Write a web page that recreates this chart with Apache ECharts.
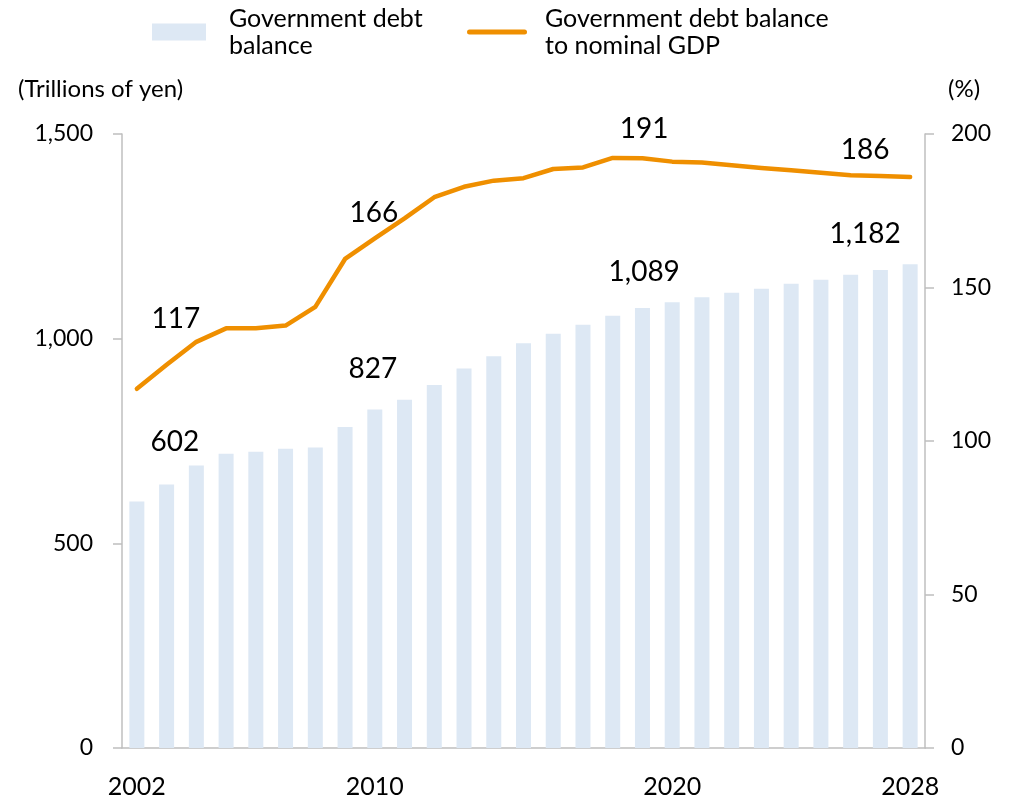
<!DOCTYPE html>
<html>
<head>
<meta charset="utf-8">
<script src="https://cdn.jsdelivr.net/npm/echarts@6/dist/echarts.min.js"></script>
<style>
  html, body { margin: 0; padding: 0; background: #ffffff; }
  #chart { width: 1009px; height: 800px; }
</style>
</head>
<body>
<div id="chart"></div>
<script>
// Fiscal years shown on the category axis
const years = ['2002','2003','2004','2005','2006','2007','2008','2009','2010','2011','2012','2013','2014',
  '2015','2016','2017','2018','2019','2020','2021','2022','2023','2024','2025','2026','2027','2028'];

// Government debt balance (trillions of yen)
const debtBalance = [602, 644, 690, 719, 724, 731, 734, 784, 827, 851, 887, 927, 957,
  989, 1012, 1034, 1056, 1075, 1089, 1101, 1112, 1122, 1134, 1144, 1156, 1168, 1182];

// Government debt balance to nominal GDP (%)
const debtToGdp = [117, 124.8, 132.3, 136.7, 136.7, 137.6, 143.7, 159.3, 166, 172.5, 179.4, 182.8, 184.8,
  185.6, 188.6, 189.1, 192.2, 192.1, 191, 190.7, 189.8, 188.9, 188.2, 187.4, 186.6, 186.3, 186];

// Years whose tick label is printed, and years whose values are annotated
const xTickYears = ['2002', '2010', '2020', '2028'];
const annotatedYears = ['2002', '2010', '2020', '2028'];

const seriesNames = ['Government debt balance', 'Government debt balance to nominal GDP'];
const legendTexts = ['Government debt\nbalance', 'Government debt balance\nto nominal GDP'];
const axisTitles = ['(Trillions of yen)', '(%)'];

// ---- presentation ----
const FONT = 'Lato, "Open Sans", sans-serif';
const BAR_COLOR = '#dde8f4';
const LINE_COLOR = '#ef8f00';
const AXIS_COLOR = '#bfbfbf';

const fmt = v => Number(v).toLocaleString('en-US');

// annotation nudges, keyed by year
const barLabelShift = { '2002': [38, -46], '2010': [-2, -27], '2020': [-28, -16], '2028': [-45, -16] };
const lineLabelShift = { '2002': [39, -56], '2010': [-1, -11], '2020': [-28, -19], '2028': [-45, -13] };

const labelText = { fontFamily: FONT, fontSize: 28, lineHeight: 28, color: '#000' };

const barData = debtBalance.map((v, i) => {
  const y = years[i];
  if (!annotatedYears.includes(y)) return v;
  return { value: v, label: { show: true, position: 'top', distance: 0, offset: barLabelShift[y],
    formatter: p => fmt(p.value), ...labelText } };
});

const lineData = debtToGdp.map((v, i) => {
  const y = years[i];
  if (!annotatedYears.includes(y)) return v;
  return { value: v, label: { show: true, position: 'top', distance: 0, offset: lineLabelShift[y],
    formatter: p => fmt(p.value), ...labelText } };
});

const chart = echarts.init(document.getElementById('chart'), null, { renderer: 'canvas' });

chart.setOption({
  animation: false,
  backgroundColor: '#ffffff',
  textStyle: { fontFamily: FONT },
  grid: { left: 122, right: 84, top: 134, bottom: 52 },
  legend: [
    {
      left: 152, top: 5, padding: 0,
      itemWidth: 54, itemHeight: 17,
      selectedMode: false,
      data: [{ name: seriesNames[0], icon: 'rect' }],
      formatter: () => legendTexts[0],
      textStyle: { fontFamily: FONT, fontSize: 25, lineHeight: 27, color: '#000', padding: [0, 0, 0, 18] }
    },
    {
      left: 467, top: 5, padding: 0,
      itemWidth: 60, itemHeight: 5,
      selectedMode: false,
      data: [{ name: seriesNames[1], icon: 'path://M2.5,0 H57.5 A2.5,2.5 0 0 1 57.5,5 H2.5 A2.5,2.5 0 0 1 2.5,0 Z',
        itemStyle: { color: LINE_COLOR } }],
      formatter: () => legendTexts[1],
      textStyle: { fontFamily: FONT, fontSize: 25, lineHeight: 27, color: '#000', padding: [0, 0, 0, 13] }
    }
  ],
  graphic: [
    { type: 'text', left: 18, top: 77, style: { text: axisTitles[0], font: '24px ' + FONT, fill: '#000' } },
    { type: 'text', left: 948, top: 77, style: { text: axisTitles[1], font: '24px ' + FONT, fill: '#000' } }
  ],
  xAxis: {
    type: 'category',
    data: years,
    boundaryGap: true,
    axisLine: { show: true, lineStyle: { color: AXIS_COLOR, width: 1.5 } },
    axisTick: { show: false },
    axisLabel: {
      interval: (idx, val) => xTickYears.includes(val),
      fontFamily: FONT, fontSize: 25, color: '#000', margin: 26
    },
    splitLine: { show: false }
  },
  yAxis: [
    {
      type: 'value', min: 0, max: 1500, interval: 500, position: 'left',
      axisLine: { show: true, lineStyle: { color: AXIS_COLOR, width: 1.5 } },
      axisTick: { show: true, length: 9, lineStyle: { color: AXIS_COLOR, width: 1.5 } },
      axisLabel: { fontFamily: FONT, fontSize: 23, color: '#000', margin: 29, formatter: v => fmt(v) },
      splitLine: { show: false }
    },
    {
      type: 'value', min: 0, max: 200, interval: 50, position: 'right',
      axisLine: { show: true, lineStyle: { color: AXIS_COLOR, width: 1.5 } },
      axisTick: { show: true, length: 9, lineStyle: { color: AXIS_COLOR, width: 1.5 } },
      axisLabel: { fontFamily: FONT, fontSize: 23, color: '#000', margin: 26 },
      splitLine: { show: false }
    }
  ],
  series: [
    {
      name: seriesNames[0],
      type: 'bar',
      yAxisIndex: 0,
      barWidth: 15,
      itemStyle: { color: BAR_COLOR },
      emphasis: { disabled: true },
      data: barData,
      z: 1
    },
    {
      name: seriesNames[1],
      type: 'line',
      yAxisIndex: 1,
      symbol: 'circle',
      symbolSize: 0.1,
      showSymbol: true,
      itemStyle: { color: LINE_COLOR },
      lineStyle: { color: LINE_COLOR, width: 4.5, cap: 'round', join: 'round' },
      emphasis: { disabled: true },
      data: lineData,
      z: 3
    }
  ]
});
</script>
</body>
</html>
